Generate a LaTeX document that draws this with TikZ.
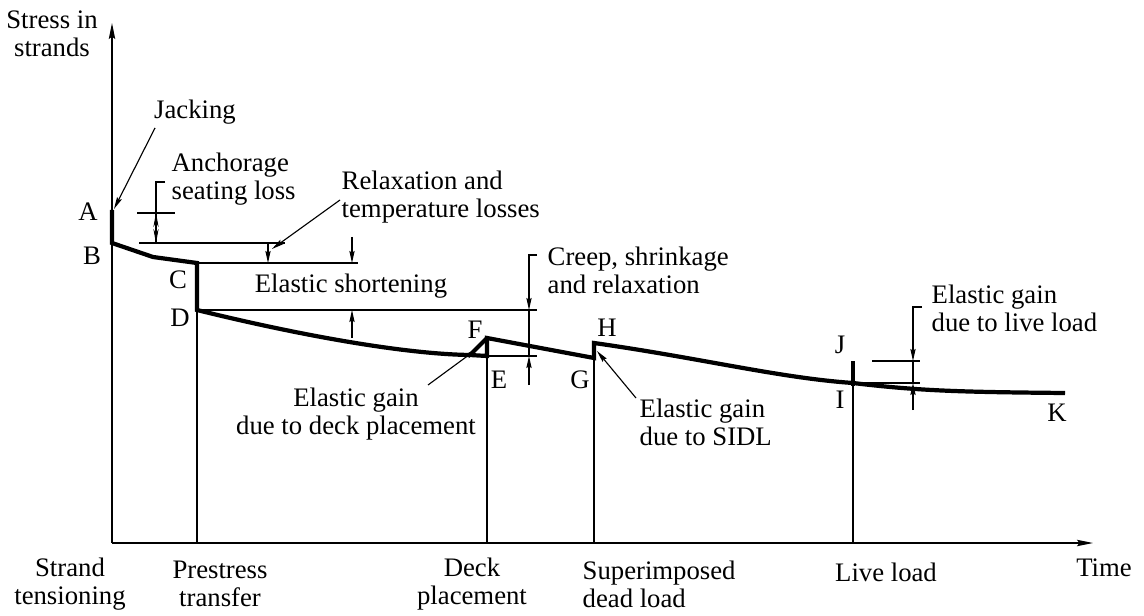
\documentclass[tikz,border=0pt]{standalone}
\usepackage{fontspec}
\setmainfont{Liberation Serif}
\usetikzlibrary{arrows.meta}
\tikzset{
  lbl/.style={inner sep=1pt, font=\fontsize{19}{20}\selectfont},
  thinline/.style={line width=0.8pt},
  strandline/.style={line width=3pt, line join=miter},
  dimtip/.style={thinline, -{Stealth[length=3mm,width=1.3mm,inset=0.4mm]}},
  axisline/.style={line width=1pt, -{Stealth[length=4mm,width=1.6mm,inset=0.6mm]}}
}
\begin{document}
\begin{tikzpicture}[x=0.025cm,y=-0.025cm]
        \useasboundingbox (0,0) rectangle (1144,616);
        \coordinate (O) at (112,543);
        \coordinate (ytop) at (112,23);
        \coordinate (xend) at (1093,543);
        \coordinate (A) at (112,210);
        \coordinate (B) at (112,243);
        \coordinate (C) at (197,263);
        \coordinate (D) at (197,310);
        \coordinate (E) at (487,356);
        \coordinate (F) at (487,338);
        \coordinate (G) at (594,358);
        \coordinate (H) at (594,343);
        \coordinate (I) at (853,383);
        \coordinate (J) at (853,361);
        \coordinate (K) at (1065,393);
        \node[lbl, align=center] (ylabel) at (52,34) {Stress in\\strands};
        \node[lbl] (time) at (1104,568) {Time};
        \node[lbl, align=center] (tension) at (70,584) {Strand\\tensioning};
        \node[lbl, align=center] (transfer) at (220,584) {Prestress\\transfer};
        \node[lbl, align=center] (deck) at (472,584) {Deck\\placement};
        \node[lbl, align=left, anchor=west] (sidl) at (581,584) {Superimposed\\dead load};
        \node[lbl] (live) at (886,572) {Live load};
        \node[lbl] (labA) at (88,212) {A};
        \node[lbl] (labB) at (92,256) {B};
        \node[lbl] (labC) at (178,280) {C};
        \node[lbl] (labD) at (180,318) {D};
        \node[lbl] (labE) at (499,380) {E};
        \node[lbl] (labF) at (475,330) {F};
        \node[lbl] (labG) at (580,380) {G};
        \node[lbl] (labH) at (607,328) {H};
        \node[lbl] (labI) at (840,400) {I};
        \node[lbl] (labJ) at (840,345) {J};
        \node[lbl] (labK) at (1057,413) {K};
        \node[lbl] (jacking) at (195,112) {Jacking};
        \node[lbl, align=left, anchor=west] (anchorage) at (170,179) {Anchorage\\seating loss};
        \node[lbl, align=left, anchor=west] (relax) at (340,197) {Relaxation and\\temperature losses};
        \node[lbl] (elshort) at (351,286) {Elastic shortening};
        \node[lbl, align=left, anchor=west] (creep) at (546,270) {Creep, shrinkage\\and relaxation};
        \node[lbl, align=center] (gaindeck) at (356,414) {Elastic gain\\due to deck placement};
        \node[lbl, align=left, anchor=west] (gainsidl) at (638,422) {Elastic gain\\due to SIDL};
        \node[lbl, align=left, anchor=west] (gainlive) at (930,308) {Elastic gain\\due to live load};
        \draw[axisline] (O) -- (ytop);
        \draw[axisline] (O) -- (xend);
        \draw[thinline] (D) -- (D |- O);
        \draw[thinline] (E) -- (E |- O);
        \draw[thinline] (G) -- (G |- O);
        \draw[thinline] (I) -- (I |- O);
        \draw[strandline] (A) -- (B) -- (153,257) -- (C) -- (D)
          .. controls (290,333) and (400,354) .. (470,355) -- (E) -- (F) -- (G) -- (H)
          .. controls (700,358) and (780,378) .. (I)
          .. controls (920,391) and (960,392) .. (K);
        \draw[strandline] (470,355) -- (F);
        \draw[strandline] (J) -- (853,386);
        % anchorage seating loss
        \draw[thinline] (137,213) -- (175,213);
        \draw[thinline] (139,243) -- (285,243);
        \draw[thinline] (165,182) -- (156,182) -- (156,243);
        \draw[thinline, {Stealth[length=3.5mm,width=1.3mm]}-{Stealth[length=3.5mm,width=1.3mm]}] (156,213) -- (156,243);
        % relaxation
        \draw[dimtip] (268,243) -- (268,263);
        \draw[dimtip] (relax.west |- 0,200) -- (272,249);
        % elastic shortening
        \draw[thinline] (C) -- (358,263);
        \draw[dimtip] (352,237) -- (352,263);
        \draw[thinline] (D) -- (537,310);
        \draw[dimtip] (352,338) -- (352,310);
        % creep, shrinkage and relaxation
        \draw[dimtip] (537,255) -- (529,255) -- (529,310);
        \draw[thinline] (529,310) -- (529,356);
        \draw[thinline] (E) -- (537,356);
        \draw[dimtip] (529,385) -- (529,356);
        % elastic gains
        \draw[dimtip] (428,385) -- (477,349);
        \draw[dimtip] (636,398) -- (597,351);
        \draw[thinline] (872,361) -- (920,361);
        \draw[thinline] (I) -- (920,383);
        \draw[dimtip] (922,307) -- (913,307) -- (913,361);
        \draw[thinline] (913,361) -- (913,383);
        \draw[dimtip] (913,410) -- (913,383);
        % jacking
        \draw[dimtip] (155,128) -- (114,209);
\end{tikzpicture}
\end{document}
